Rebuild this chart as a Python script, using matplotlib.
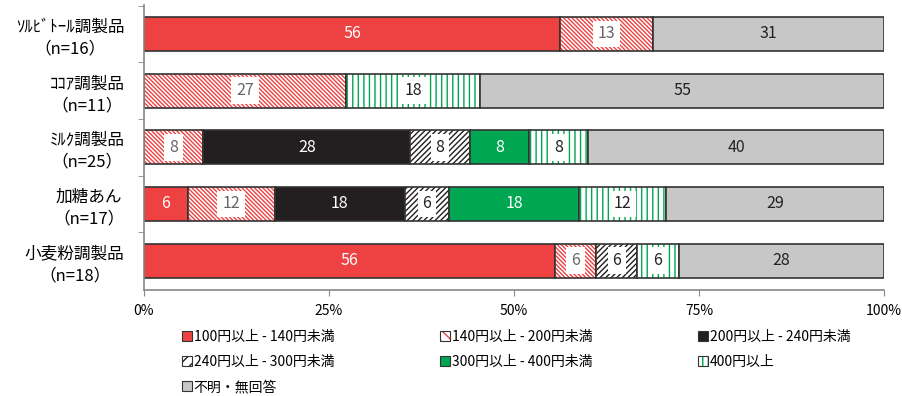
import numpy as np
import matplotlib
matplotlib.use("Agg")
import matplotlib.pyplot as plt
from matplotlib.patches import Patch
from matplotlib.legend_handler import HandlerTuple

plt.rcParams['font.family'] = ['Noto Sans CJK JP', 'DejaVu Sans']
plt.rcParams['hatch.linewidth'] = 1.0

cats = ["ｿﾙﾋﾞﾄｰﾙ調製品\n（n=16）", "ｺｺｱ調製品\n（n=11）", "ﾐﾙｸ調製品\n（n=25）",
        "加糖あん\n（n=17）", "小麦粉調製品\n（n=18）"]
series = ["100円以上 - 140円未満", "140円以上 - 200円未満", "200円以上 - 240円未満",
          "240円以上 - 300円未満", "300円以上 - 400円未満", "400円以上", "不明・無回答"]

# share (%) per price band, one list per band, rows in cats order
p100_140 = [56.25, 0, 0, 5.88, 55.56]
p140_200 = [12.50, 27.27, 8, 11.76, 5.56]
p200_240 = [0, 0, 28, 17.65, 0]
p240_300 = [0, 0, 8, 5.88, 5.56]
p300_400 = [0, 0, 8, 17.65, 0]
p400 = [0, 18.18, 8, 11.76, 5.56]
unknown = [31.25, 54.55, 40, 29.41, 27.78]

vals = [p100_140, p140_200, p200_240, p240_300, p300_400, p400, unknown]

# face, hatch colour, hatch, label colour, white box behind label
styles = [
    ('#EE4141', None, None, 'white', False),
    ('white', '#EE4141', '\\' * 8, '#666666', True),
    ('#231F20', None, None, 'white', False),
    ('white', '#231F20', '/' * 6, '#222222', True),
    ('#00A651', None, None, 'white', False),
    ('white', '#00A651', '|||', '#222222', True),
    ('#C8C7C7', None, None, '#222222', False),
]
edge = '#333333'

fig = plt.figure(figsize=(9.03, 3.96), dpi=100)
ax = fig.add_axes([144/903, 1-290/396, 740/903, 285/396])

y = np.arange(len(cats))
left = np.zeros(len(cats))
handles = []
for v, (fc, hc, hatch, tc, box) in zip(vals, styles):
    v = np.array(v, dtype=float)
    if hatch:
        ax.barh(y, v, 0.6, left=left, color=fc, edgecolor=hc, hatch=hatch, linewidth=0)
        ax.barh(y, v, 0.6, left=left, color='none', edgecolor=edge, linewidth=1.2)
        handles.append((Patch(facecolor=fc, edgecolor=hc, hatch=hatch[:3], linewidth=0),
                        Patch(facecolor='none', edgecolor=edge, linewidth=0.8)))
    else:
        ax.barh(y, v, 0.6, left=left, color=fc, edgecolor=edge, linewidth=1.2)
        handles.append(Patch(facecolor=fc, edgecolor=edge, linewidth=0.8))
    for i in range(len(cats)):
        if v[i] > 0:
            bb = dict(boxstyle='square,pad=0.3', fc='white', ec='none') if box else None
            ax.text(left[i] + v[i]/2, y[i], str(int(v[i] + 0.5)), ha='center', va='center',
                    fontsize=11.5, color=tc, bbox=bb)
    left += v

ax.set_xlim(0, 100)
ax.set_ylim(4.52, -0.51)
ax.set_xticks([0, 25, 50, 75, 100])
ax.set_xticklabels(['0%', '25%', '50%', '75%', '100%'], fontsize=10)
ax.set_yticks(y)
ax.set_yticklabels(cats, fontsize=12)
for t in ax.get_yticklabels():
    t.set_multialignment('center')
    t.set_linespacing(1.35)
ax.set_yticks(np.arange(-0.5, 4.0, 1.0), minor=True)
ax.tick_params(axis='y', which='major', length=0, pad=14)
ax.tick_params(axis='y', which='minor', length=4, color='#888888', direction='out')
ax.tick_params(axis='x', length=4, color='#888888', pad=6)
for s in ['top', 'right']:
    ax.spines[s].set_visible(False)
for s in ['left', 'bottom']:
    ax.spines[s].set_color('#888888')
    ax.spines[s].set_linewidth(1.2)

order = [0, 3, 6, 1, 4, 2, 5]
fig.legend([handles[i] for i in order], [series[i] for i in order],
           loc='upper left', bbox_to_anchor=(175/903, 1-323/396), ncol=3,
           frameon=False, fontsize=10, handlelength=0.7, handleheight=0.7,
           handletextpad=0.15, columnspacing=7.6, labelspacing=0.8, borderpad=0,
           handler_map={tuple: HandlerTuple(ndivide=1)})

fig.savefig('out.png', dpi=100)
